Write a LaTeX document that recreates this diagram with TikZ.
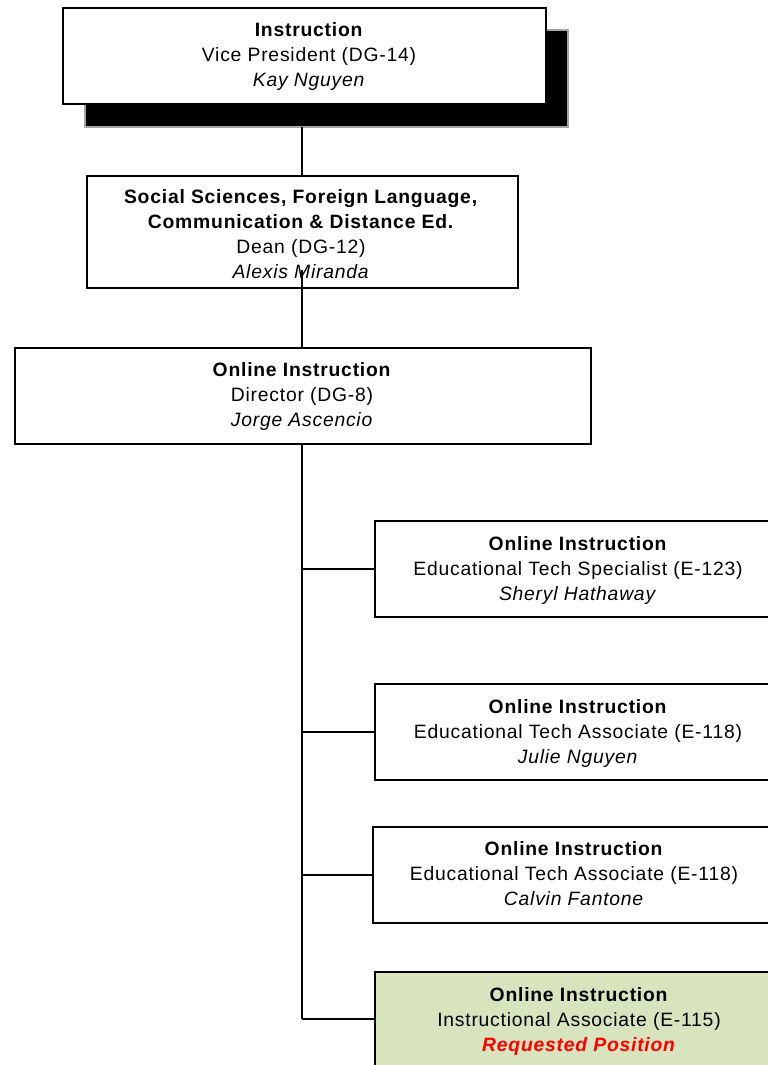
\documentclass[tikz,border=0pt]{standalone}
\usepackage{fontspec}
\setmainfont{Liberation Sans}[LetterSpace=4]
\begin{document}
\begin{tikzpicture}[x=0.75pt,y=-0.75pt,
  box/.style={draw=black, line width=1.2pt, fill=white, inner sep=0pt, anchor=north west},
  conn/.style={draw=black, line width=1.1pt},
  txt/.style={font=\fontsize{14.5pt}{18.75pt}\selectfont, align=center, inner sep=0pt}]
\useasboundingbox (0,0) rectangle (768,1065);
\clip (0,0) rectangle (768,1065);
\fill[white] (0,0) rectangle (768,1065);
% shadow of top box
\filldraw[fill=black, draw=gray!70, line width=0.8pt] (85,30) rectangle (568,127);
% boxes
\node[box, minimum width=483*0.75pt, minimum height=96*0.75pt] (vp) at (62,7) {};
\node[box, line width=1.6pt, minimum width=431*0.75pt, minimum height=112*0.75pt] (dean) at (86,175) {};
\node[box, minimum width=576*0.75pt, minimum height=96*0.75pt] (dir) at (14,347) {};
\node[box, minimum width=420*0.75pt, minimum height=96*0.75pt] (s1) at (374,520) {};
\node[box, minimum width=420*0.75pt, minimum height=96*0.75pt] (s2) at (374,683) {};
\node[box, minimum width=420*0.75pt, minimum height=96*0.75pt] (s3) at (372,826) {};
\node[box, fill={rgb,255:red,215;green,228;blue,189}, minimum width=420*0.75pt, minimum height=110*0.75pt] (s4) at (374,971) {};
% connectors
\coordinate (vpb) at (302,127);
\coordinate (deanin) at (302,270);
\coordinate (trunk) at (302,1019);
\draw[conn] (vpb) -- (302,175);
\draw[conn] (deanin) -- (dir.north -| deanin);
\draw[conn] (dir.south -| trunk) -- (trunk);
\draw[conn] (s1.west) -- (s1.west -| trunk);
\draw[conn] (s2.west) -- (s2.west -| trunk);
\draw[conn] (s3.west) -- (s3.west -| trunk);
\draw[conn] (trunk) -- (trunk -| s4.west);
% texts
\node[txt] (t1) at (309,56) {\textbf{Instruction}\\Vice President (DG-14)\\\textit{Kay Nguyen}};
\node[txt] (t2) at (301,234) {\textbf{Social Sciences, Foreign Language,}\\\textbf{Communication \& Distance Ed.}\\Dean (DG-12)\\\textit{Alexis Miranda}};
\node[txt] (t3) at (302,396) {\textbf{Online Instruction}\\Director (DG-8)\\\textit{Jorge Ascencio}};
\node[txt] (t4) at (578,570) {\textbf{Online Instruction}\\Educational Tech Specialist (E-123)\\\textit{Sheryl Hathaway}};
\node[txt] (t5) at (578,733) {\textbf{Online Instruction}\\Educational Tech Associate (E-118)\\\textit{Julie Nguyen}};
\node[txt] (t6) at (574,874) {\textbf{Online Instruction}\\Educational Tech Associate (E-118)\\\textit{Calvin Fantone}};
\node[txt] (t7) at (579,1021) {\textbf{Online Instruction}\\Instructional Associate (E-115)\\\textcolor{red}{\textbf{\textit{Requested Position}}}};
\end{tikzpicture}
\end{document}
